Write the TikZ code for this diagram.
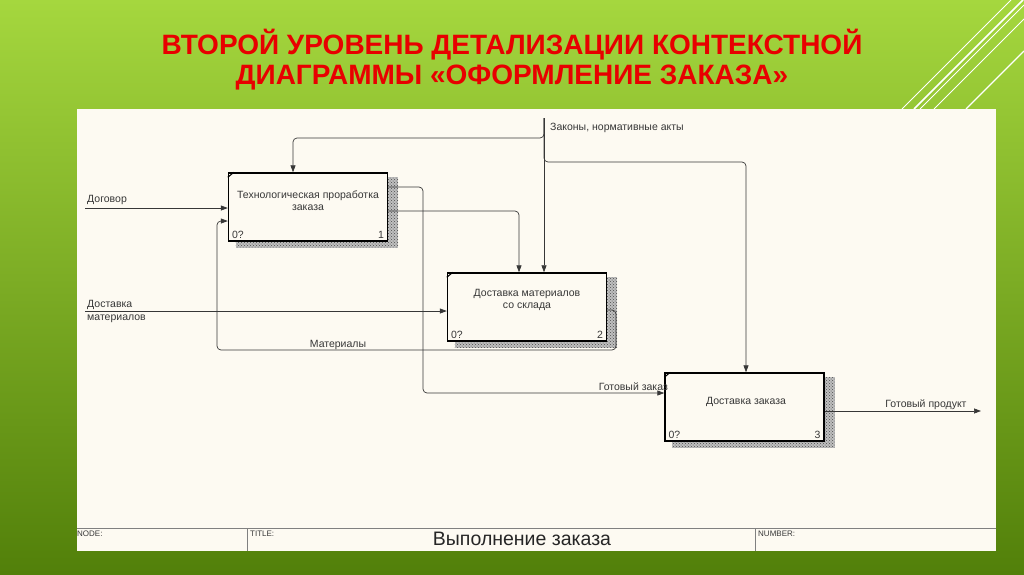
\documentclass[tikz,border=0pt]{standalone}
\usepackage{fontspec}
\setmainfont{Liberation Sans}
\usetikzlibrary{arrows.meta,patterns,backgrounds}
\definecolor{panel}{RGB}{253,250,242}
\definecolor{titlered}{RGB}{232,0,0}
\definecolor{bgtop}{RGB}{165,215,62}
\definecolor{bgbot}{RGB}{82,128,10}
\definecolor{ink}{RGB}{55,55,55}

\begin{document}
\begin{tikzpicture}[x=1pt, y=-1pt]
    \tikzstyle{func} = [draw=black, line width=1.4pt, fill=panel, minimum width=159pt, minimum height=68pt, inner sep=0pt]
    \tikzstyle{flow} = [draw=ink, line width=0.7pt, rounded corners=4pt, -{Triangle[length=7pt,width=5pt]}]
    \tikzstyle{lbl} = [font=\fontsize{10.5}{12}\selectfont, text=ink, inner sep=1pt]
    \tikzstyle{cell} = [font=\fontsize{8}{9}\selectfont, text=ink, inner sep=1pt, anchor=west]
    \useasboundingbox (0,0) rectangle (1024,574);

      % functions
      \node[func] (b1) at (308,207)   {};
      \node[func] (b2) at (527,307)   {};
      \node[func] (b3) at (744.5,407) {};

      \node[lbl, align=center] (t1) at (308,201) {Технологическая проработка\\заказа};
      \node[lbl, align=center] (t2) at (527,300) {Доставка материалов\\со склада};
      \node[lbl] (t3) at (746,402) {Доставка заказа};

      \node[lbl, anchor=south west] (n1a) at ([xshift=3pt,yshift=2pt]b1.south west) {0?};
      \node[lbl, anchor=south east] (n1b) at ([xshift=-3pt,yshift=2pt]b1.south east) {1};
      \node[lbl, anchor=south west] (n2a) at ([xshift=3pt,yshift=2pt]b2.south west) {0?};
      \node[lbl, anchor=south east] (n2b) at ([xshift=-3pt,yshift=2pt]b2.south east) {2};
      \node[lbl, anchor=south west] (n3a) at ([xshift=3pt,yshift=2pt]b3.south west) {0?};
      \node[lbl, anchor=south east] (n3b) at ([xshift=-3pt,yshift=2pt]b3.south east) {3};

      \draw[line width=1pt] ([yshift=-5pt]b1.north west) -- ([xshift=6pt]b1.north west);
      \draw[line width=1pt] ([yshift=-5pt]b2.north west) -- ([xshift=6pt]b2.north west);
      \draw[line width=1pt] ([yshift=-5pt]b3.north west) -- ([xshift=6pt]b3.north west);

      % free ends
      \coordinate (zak)  at (544,118);
      \coordinate (dog)  at (85,208);
      \coordinate (dost) at (85,311);
      \coordinate (prod) at (981,411);

      \draw[flow] (dog) -- ([yshift=-1pt]b1.west);
      \draw[flow] (dost) -- ([yshift=-4pt]b2.west);
      \draw[flow] (zak) -- ([xshift=17pt]b2.north);
      \draw[flow] (zak) -- (544,138) -- (293,138) -- ([xshift=-15pt]b1.north);
      \draw[flow] (zak) -- (544,162) -- (746,162) -- ([xshift=1.5pt]b3.north);
      \draw[flow] ([yshift=-4pt]b1.east) -- (519,211) -- ([xshift=-8pt]b2.north);
      \draw[flow] ([yshift=20pt]b1.east) -- (423,187) -- (423,393) -- ([yshift=14pt]b3.west);
      \draw[flow] ([yshift=-3pt]b2.east) -- (616,310) -- (616,350) -- (217,350) -- (217,221) -- ([yshift=-14pt]b1.west);
      \draw[flow] ([yshift=-4pt]b3.east) -- (prod);

      \node[lbl, anchor=west] (lzak) at (549,128) {Законы, нормативные акты};
      \node[lbl, anchor=west] (ldog) at (86,200) {Договор};
      \node[lbl, anchor=west, align=left, font=\fontsize{10.5}{13}\selectfont] (ldost) at (86,311) {Доставка\\материалов};
      \node[lbl] (lmat) at (338,345) {Материалы};
      \node[lbl, anchor=east] (lgz) at (669,387) {Готовый заказ};
      \node[lbl] (lprod) at (926,405) {Готовый продукт};

      % title block
      \draw[gray, line width=0.8pt] (77,528) -- (996,528);
      \draw[gray, line width=0.8pt] (247,528) -- (247,551);
      \draw[gray, line width=0.8pt] (755,528) -- (755,551);
      \node[cell] (cnode) at (76,534) {NODE:};
      \node[cell] (ctitle) at (249,534) {TITLE:};
      \node[cell] (cnum) at (757,534) {NUMBER:};
      \node[font=\fontsize{19.5}{22}\selectfont, text=black!85] (ctext) at (522,539) {Выполнение заказа};

      % heading
      \node[font=\fontsize{28}{30}\selectfont\bfseries, text=titlered, align=center] (head) at (512,60)
        {ВТОРОЙ УРОВЕНЬ ДЕТАЛИЗАЦИИ КОНТЕКСТНОЙ\\ДИАГРАММЫ «ОФОРМЛЕНИЕ ЗАКАЗА»};

    \begin{scope}[on background layer]
      \shade[top color=bgtop, bottom color=bgbot] (0,0) rectangle (1024,574);
      \draw[white, line width=0.8pt] (902,109) -- (1011,0);
      \draw[white, line width=1.6pt] (914,109) -- (1023,0);
      \draw[white, line width=0.8pt] (920,109) -- (1024,5);
      \draw[white, line width=0.8pt] (934,109) -- (1024,19);
      \draw[white, line width=1.2pt] (966,109) -- (1024,51);
      \fill[panel] (77,109) rectangle (996,551);
      \fill[black!25] ([xshift=8pt,yshift=-5pt]b1.north west) rectangle ([xshift=10pt,yshift=-6pt]b1.south east);
      \fill[black!25] ([xshift=8pt,yshift=-5pt]b2.north west) rectangle ([xshift=10pt,yshift=-6pt]b2.south east);
      \fill[black!25] ([xshift=8pt,yshift=-5pt]b3.north west) rectangle ([xshift=10pt,yshift=-6pt]b3.south east);
      \fill[pattern=crosshatch dots, pattern color=black!70] ([xshift=8pt,yshift=-5pt]b1.north west) rectangle ([xshift=10pt,yshift=-6pt]b1.south east);
      \fill[pattern=crosshatch dots, pattern color=black!70] ([xshift=8pt,yshift=-5pt]b2.north west) rectangle ([xshift=10pt,yshift=-6pt]b2.south east);
      \fill[pattern=crosshatch dots, pattern color=black!70] ([xshift=8pt,yshift=-5pt]b3.north west) rectangle ([xshift=10pt,yshift=-6pt]b3.south east);
    \end{scope}
\end{tikzpicture}
\end{document}
